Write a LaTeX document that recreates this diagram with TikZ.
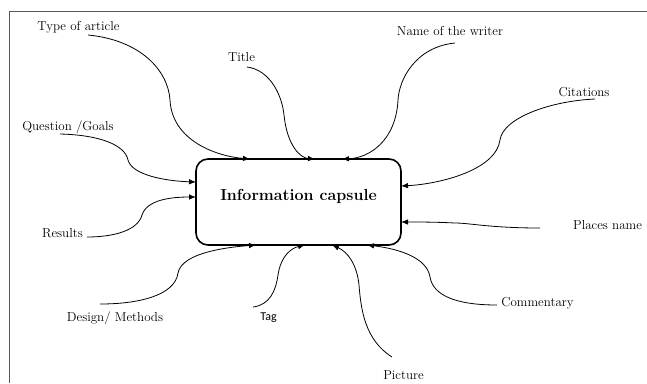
\documentclass[tikz,border=0pt]{standalone}
\usepackage{fontspec}
\newfontfamily\tagfont{Carlito}
\usetikzlibrary{arrows.meta}
\begin{document}
\begin{tikzpicture}[x=1pt,y=-1pt,
  lbl/.style={font=\fontsize{13}{15}\selectfont, inner sep=0pt, outer sep=0pt},
  conn/.style={line width=0.8pt, -{Latex[length=7pt,width=5.5pt]}},
  capsule/.style={draw, line width=1.6pt, rounded corners=12pt, minimum width=205pt, minimum height=86pt, inner sep=0pt, outer sep=0pt},
  frame/.style={draw=black!65, line width=0.9pt}]
\useasboundingbox (0,0) rectangle (647,383);
\draw[frame] (9,383) -- (9,11) -- (647,11);

\node[capsule] (box) at (298.5,202) {};
\node[font=\fontsize{16}{18}\selectfont\bfseries, inner sep=0pt] (cap) at ([yshift=6pt]box.center) {Information capsule};

\node[lbl] (toa) at (78.5,27) {Type of article};
\node[lbl] (title) at (241.5,57) {Title};
\node[lbl] (writer) at (450,31) {Name of the writer};
\node[lbl] (cit) at (584,92) {Citations};
\node[lbl] (q) at (68,127) {Question /Goals};
\node[lbl] (res) at (62.5,233) {Results};
\node[lbl] (places) at (607.5,225) {Places name};
\node[lbl] (comm) at (537.5,303) {Commentary};
\node[lbl] (design) at (115,318) {Design/ Methods};
\node[inner sep=0pt, font=\tagfont\fontsize{12}{14}\selectfont] (tag) at (268.5,318) {Tag};
\node[lbl] (pic) at (403.5,375) {Picture};

\draw[conn] ([xshift=9.5pt,yshift=-8pt]toa.center) .. controls (140,40) and (168,70) .. (170,100)
  .. controls (172,140) and (215,156) .. ([xshift=54pt]box.north west);
\draw[conn] ([xshift=5.5pt,yshift=-10pt]title.center) .. controls (270,70) and (282,95) .. (284,115)
  .. controls (287,145) and (300,158) .. ([xshift=119pt]box.north west);
\draw[conn] ([xshift=5pt,yshift=-12pt]writer.center) .. controls (415,47) and (399,80) .. (398,100)
  .. controls (396,140) and (370,158) .. ([xshift=146pt]box.north west);
\draw[conn] ([xshift=11pt,yshift=-7pt]cit.center) .. controls (550,101) and (503,118) .. (500,140)
  .. controls (496,170) and (440,184) .. ([yshift=-27pt]box.north east);
\draw[conn] ([xshift=-8pt,yshift=-7pt]q.center) .. controls (100,135) and (125,145) .. (128,160)
  .. controls (132,175) and (165,181) .. ([yshift=-23pt]box.north west);
\draw[conn] ([xshift=24.5pt,yshift=-4pt]res.center) .. controls (115,237) and (138,230) .. (142,215)
  .. controls (147,200) and (170,197) .. ([yshift=-38pt]box.north west);
\draw[conn] ([xshift=-67.5pt,yshift=-3pt]places.center) .. controls (490,228) and (470,223) .. (455,223)
  .. controls (435,222) and (420,222) .. ([yshift=-63pt]box.north east);
\draw[conn] ([xshift=-40.5pt,yshift=-2pt]comm.center) .. controls (455,305) and (433,295) .. (430,277)
  .. controls (427,258) and (400,249) .. ([xshift=171pt]box.south west);
\draw[conn] ([xshift=-15pt,yshift=14pt]design.center) .. controls (140,304) and (175,295) .. (178,273)
  .. controls (182,252) and (230,247) .. ([xshift=60pt]box.south west);
\draw[conn] ([xshift=-15.5pt,yshift=11pt]tag.center) .. controls (270,305) and (276,290) .. (278,275)
  .. controls (281,255) and (292,248) .. ([xshift=109pt]box.south west);
\draw[conn] ([xshift=-11.5pt,yshift=18pt]pic.center) .. controls (365,340) and (361,310) .. (359,285)
  .. controls (357,265) and (348,252) .. ([xshift=136pt]box.south west);
\end{tikzpicture}
\end{document}
